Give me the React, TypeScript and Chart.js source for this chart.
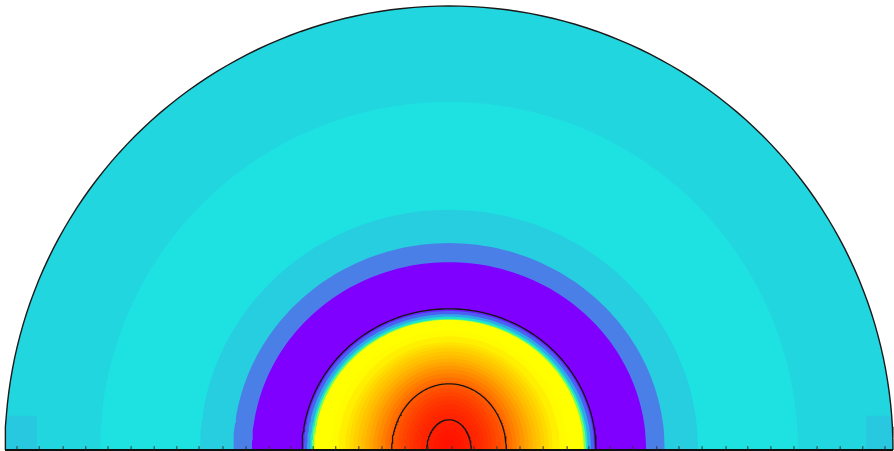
import { useEffect, useRef } from "react";
import { Chart, registerables } from "chart.js";

Chart.register(...registerables);

// ---- Data (domain radius = 1, x in [-1, 1], y in [0, 1]) ----

// Outer solid bands: half-width at the base line and height at the top
const bandLabels = ["Outer field", "Ring 1", "Ring 2", "Ring 3", "Ring 4"];
const bandHalfWidth = [1.0, 0.786, 0.561, 0.486, 0.444];
const bandHeight = [1.0, 0.784, 0.541, 0.466, 0.423];
const bandColors = ["#22D6E0", "#1EE2E2", "#26CEE0", "#4A7FE8", "#7F00FF"];

// Hot core levels (outermost first)
const coreHalfWidth = [0.331, 0.327, 0.32, 0.313, 0.309, 0.304, 0.284, 0.266, 0.25, 0.234, 0.225, 0.216, 0.207, 0.198, 0.189, 0.18, 0.171, 0.162, 0.153, 0.144, 0.135, 0.126, 0.117, 0.108, 0.099, 0.09, 0.081, 0.072, 0.063, 0.054, 0.045, 0.036, 0.027, 0.018];
const coreHeight = [0.318, 0.313, 0.306, 0.3, 0.295, 0.293, 0.279, 0.268, 0.256, 0.243, 0.236, 0.23, 0.222, 0.214, 0.206, 0.198, 0.19, 0.182, 0.173, 0.164, 0.155, 0.146, 0.139, 0.13, 0.122, 0.113, 0.103, 0.093, 0.083, 0.072, 0.061, 0.049, 0.037, 0.025];
const coreColors = ["#6A20FF", "#4A60F0", "#30A8E8", "#20E0D0", "#70FF60", "#FFFF00", "#FFFF00", "#FFFC00", "#FFF000", "#FFE400", "#FFDA00", "#FFD000", "#FFC600", "#FFBC00", "#FFB000", "#FFA400", "#FF9800", "#FF8C00", "#FF7E00", "#FF7000", "#FF6200", "#FF5400", "#FF4C00", "#FF4400", "#FF3C00", "#FF3400", "#FF2E00", "#FF2800", "#FF2400", "#FF2000", "#FF1C00", "#FF1800", "#FF1500", "#FF1200"];

// Corner mesh patches [xStart, xEnd, top]
const patchXStart = [-1.0, 0.939];
const patchXEnd = [-0.928, 1.0];
const patchTop = [0.077, 0.077];
const patchColor = "#28C8E0";

// Contour lines
const contourHalfWidth = [0.331, 0.129, 0.05];
const contourHeight = [0.318, 0.149, 0.068];

// Tick marks along the base line
const tickPositions = [-0.973, -0.923, -0.869, -0.818, -0.768, -0.716, -0.664, -0.613, -0.563, -0.509, -0.457, -0.405, -0.356, -0.306, -0.255, -0.203, -0.151, -0.099, -0.047, 0.007, 0.056, 0.108, 0.16, 0.212, 0.266, 0.315, 0.363, 0.414, 0.468, 0.518, 0.57, 0.624, 0.673, 0.725, 0.777, 0.829, 0.881, 0.932, 0.982];

// ---- Geometry helper: dome outline from left base to right base ----
function dome(halfWidth: number, height: number) {
  const pts: { x: number; y: number }[] = [];
  for (let a = 180; a >= 0; a -= 1.5) {
    const t = (a * Math.PI) / 180;
    pts.push({ x: halfWidth * Math.cos(t), y: height * Math.sin(t) });
  }
  return pts;
}

export default function App() {
  const canvasRef = useRef<HTMLCanvasElement | null>(null);

  useEffect(() => {
    if (!canvasRef.current) return;
    const layers: any[] = [];

    bandLabels.forEach((label, i) => {
      layers.push({
        label,
        data: dome(bandHalfWidth[i], bandHeight[i]),
        showLine: true,
        fill: "origin",
        backgroundColor: bandColors[i],
        borderWidth: 0,
        borderColor: "rgba(0,0,0,0)",
        pointRadius: 0,
        clip: false,
      });
      if (i === 0) {
        patchXStart.forEach((xs, j) => {
          layers.push({
            label: "patch" + j,
            data: [
              { x: xs, y: j === 0 ? 0 : patchTop[j] },
              { x: j === 0 ? xs + 0.003 : xs, y: patchTop[j] },
              { x: j === 0 ? patchXEnd[j] : patchXEnd[j] - 0.003, y: patchTop[j] },
              { x: patchXEnd[j], y: j === 0 ? patchTop[j] : 0 },
            ],
            showLine: true,
            fill: "origin",
            backgroundColor: patchColor,
            borderWidth: 0,
            borderColor: "rgba(0,0,0,0)",
            pointRadius: 0,
            clip: false,
          });
        });
      }
    });

    coreHalfWidth.forEach((hw, i) => {
      layers.push({
        label: "core" + i,
        data: dome(hw, coreHeight[i]),
        showLine: true,
        fill: "origin",
        backgroundColor: coreColors[i],
        borderWidth: 0,
        borderColor: "rgba(0,0,0,0)",
        pointRadius: 0,
        clip: false,
      });
    });

    contourHalfWidth.forEach((hw, i) => {
      layers.push({
        label: "contour" + i,
        data: dome(hw, contourHeight[i]),
        showLine: true,
        fill: false,
        borderColor: "#141414",
        borderWidth: 1.3,
        pointRadius: 0,
        clip: false,
      });
    });

    // domain outline
    layers.push({
      label: "outline",
      data: dome(1, 1),
      showLine: true,
      fill: false,
      borderColor: "#1a1a1a",
      borderWidth: 1.4,
      pointRadius: 0,
      clip: false,
    });
    layers.push({
      label: "base",
      data: [
        { x: -1, y: 0 },
        { x: 1, y: 0 },
      ],
      showLine: true,
      fill: false,
      borderColor: "#111111",
      borderWidth: 2,
      pointRadius: 0,
      clip: false,
    });
    layers.push({
      label: "ticks",
      data: tickPositions.map((x) => ({ x, y: 0.005 })),
      showLine: false,
      pointStyle: "line",
      rotation: 90,
      pointRadius: 1.6,
      borderColor: "#333333",
      borderWidth: 1,
      clip: false,
    });

    const n = layers.length;
    layers.forEach((d, i) => {
      d.order = n - i;
      d.tension = 0;
    });

    const chart = new Chart(canvasRef.current, {
      type: "scatter",
      data: { datasets: layers },
      options: {
        responsive: false,
        animation: false,
        devicePixelRatio: 1,
        layout: { autoPadding: false, padding: { left: 5, right: 1, top: 6, bottom: 1 } } as any,
        plugins: {
          legend: { display: false },
          tooltip: { enabled: false },
          filler: { drawTime: "beforeDatasetDraw" } as any,
        },
        scales: {
          x: { type: "linear", min: -1, max: 1, display: false },
          y: { type: "linear", min: 0, max: 1, display: false },
        },
      },
    });
    return () => chart.destroy();
  }, []);

  return (
    <div style={{ position: "fixed", left: 0, top: 0, width: 894, height: 451, background: "#ffffff" }}>
      <canvas ref={canvasRef} width={894} height={451} style={{ display: "block", width: 894, height: 451 }} />
    </div>
  );
}
